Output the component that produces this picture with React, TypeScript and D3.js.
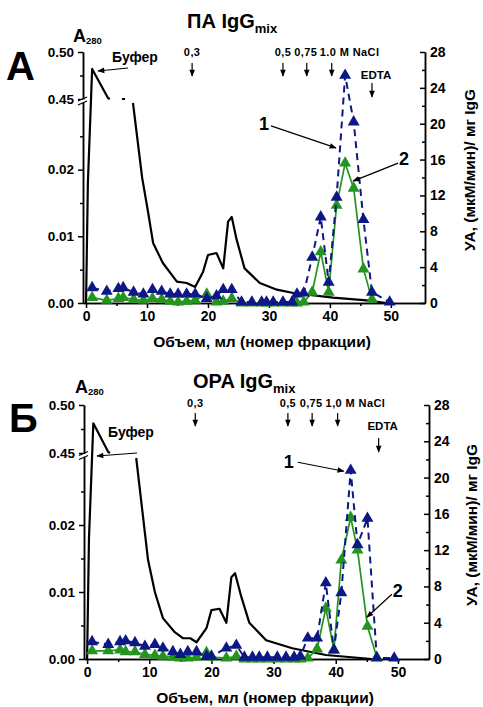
import React, { useEffect, useRef } from "react";
import * as d3 from "d3";

const W = 483;
const H = 707;
const FONT = "'Liberation Sans', Arial, sans-serif";
const BLUE = "#0d1786";
const GREEN = "#23951f";

// панель А: ПА IgGmix (объем фракции, мл)
const fracA = [1.0, 3.4, 5.3, 6.1, 7.8, 9.4, 10.9, 12.4, 13.8, 15.1, 16.5, 17.9, 19.8, 21.4, 22.5, 23.9, 25.5, 27.2, 28.8, 29.6, 30.7, 32.3, 33.8, 34.6, 35.7, 37.1, 38.5, 39.8, 41.1, 42.5, 43.9, 45.5, 46.9, 49.8];
const ua1A = [1.7, 1.3, 1.6, 1.7, 1.2, 1.0, 1.5, 1.3, 1.0, 1.0, 1.0, 1.0, 0.5, 0.8, 1.5, 1.5, 0.1, 0.1, 0.1, 0.1, 0.1, 0.1, 0.1, 1.0, 1.1, 5.1, 9.6, 2.3, 11.8, 25.4, 20.2, 9.3, 1.2, 0.1];
const ua2A = [0.6, 0.3, 0.5, 0.6, 0.4, 0.3, 0.5, 0.4, 0.2, 0.1, 0.2, 0.3, 1.0, 0.1, 0.2, 0.5, 0, 0, 0, 0, 0, 0, 0, 0, 0.1, 1.2, 5.7, 1.2, 10.9, 15.6, 12.8, 3.8, 0.4, null];
const a280VolA = [0.0, 0.3, 1.0, 3.6, 3.9, 4.5, 5.9, 6.4, 7.0, 7.7, 9.2, 10.2, 11.0, 12.6, 14.9, 16.5, 17.9, 19.2, 20.0, 21.4, 22.5, 23.3, 23.9, 24.7, 26.0, 28.5, 31.3, 34.0, 40.5, 46.0, 49.3];
const a280A = [0, 0.018, 0.482, 0.451, 0.45, null, 0.449, 0.449, null, 0.03, 0.0188, 0.0135, 0.009, 0.006, 0.0032, 0.003, 0.0024, 0.0047, 0.0072, 0.0075, 0.0052, 0.0122, 0.0129, 0.0095, 0.0052, 0.003, 0.002, 0.0015, 0.0008, 0.0004, 0];

// панель Б: OPA IgGmix
const fracB = [0.8, 3.4, 5.3, 6.2, 7.7, 9.3, 10.9, 12.2, 13.8, 15.0, 16.2, 17.6, 19.2, 20.0, 22.4, 24.0, 25.3, 26.6, 27.7, 29.0, 30.6, 32.0, 33.3, 34.3, 35.5, 37.0, 38.4, 39.7, 40.9, 42.4, 43.5, 45.1, 46.6, 49.4];
const ua1B = [1.9, 1.6, 1.9, 2.0, 1.8, 1.4, 1.6, 1.2, 0.8, 0.5, 0.8, 0.8, 0.3, 0.3, 1.2, 1.5, 0.2, 0.2, 0.2, 0.2, 0.2, 0.2, 0.2, 0.3, 2.3, 2.3, 8.4, 1.0, 7.3, 20.8, 12.6, 15.5, 0.1, 0.1];
const ua2B = [0.9, 0.9, 1.0, 0.8, 0.8, 0.5, 0.4, 0.3, 0.2, 0.1, 0.1, 0.2, 0.7, 0.2, 0.1, 0.3, 0, 0, 0, 0, 0, 0, 0, 0, 0.1, 1.1, 5.6, 1.0, 10.9, 15.6, 12.0, 3.6, 0.2, null];
const a280VolB = [0.0, 0.3, 1.0, 3.4, 3.7, 5.0, 7.9, 9.8, 10.9, 12.2, 14.1, 15.4, 16.6, 17.6, 19.2, 20.0, 21.3, 22.4, 23.2, 23.8, 24.8, 26.1, 28.8, 33.0, 38.4, 45.8];
const a280B = [0, 0.018, 0.481, 0.451, 0.45, null, 0.03, 0.0148, 0.01, 0.0061, 0.004, 0.0031, 0.0031, 0.0025, 0.0046, 0.0073, 0.0075, 0.0054, 0.0122, 0.0128, 0.0093, 0.0054, 0.0028, 0.0016, 0.0006, 0];

const xTicks = [0, 10, 20, 30, 40, 50];
const xMinor = [5, 15, 25, 35, 45];
const leftTicks = [0, 0.01, 0.02, 0.45, 0.5];
const leftMinor = [0.005, 0.015, 0.025, 0.475];
const rightTicks = [0, 4, 8, 12, 16, 20, 24, 28];
const rightMinor = [2, 6, 10, 14, 18, 22, 26];
const saltVol = [17.4, 32.3, 36.2, 40.3];
const edtaVol = 46.9;
const saltLabelsA = ["0,3", "0,5", "0,75", "1.0 M NaCl"];
const saltLabelsB = ["0,3", "0,5", "0,75", "1,0 M NaCl"];

const panels = [
  {
    letter: "А", title: "ПА IgG", frac: fracA, ua1: ua1A, ua2: ua2A, aVol: a280VolA, a280: a280A, salt: saltLabelsA,
    xDomain: [-0.5, 55.6], xRange: [83, 425], yL: [303, 103, 99, 52],
    letterPos: [6, 80], titlePos: [187, 28], a280Pos: [73, 42],
    saltY: 63, saltLabelY: 56, edtaY: 83, edtaLabelY: 79,
    bufText: [112, 62], bufArrow: [128, 68, 98, 71],
    xLabel: [262, 347], yLabel: [475, 170],
    notes: [
      { t: "1", v: 41.0, u: 17.3, sx: -65, sy: -22, lx: -72, ly: -24 },
      { t: "2", v: 43.8, u: 13.6, sx: 45, sy: -18, lx: 51, ly: -23 },
    ],
  },
  {
    letter: "Б", title: "OPA IgG", frac: fracB, ua1: ua1B, ua2: ua2B, aVol: a280VolB, a280: a280B, salt: saltLabelsB,
    xDomain: [-0.5, 55.0], xRange: [84, 429], yL: [659, 458, 453, 405],
    letterPos: [9, 432], titlePos: [193, 388], a280Pos: [75, 393],
    saltY: 413, saltLabelY: 407, edtaY: 438, edtaLabelY: 430,
    bufText: [108, 437], bufArrow: [137, 453, 97, 456],
    xLabel: [265, 703], yLabel: [477, 525],
    notes: [
      { t: "1", v: 41.3, u: 20.7, sx: -46, sy: -9, lx: -55, ly: -10 },
      { t: "2", v: 45.0, u: 4.6, sx: 25, sy: -23, lx: 31, ly: -27 },
    ],
  },
];

function styleAxis(sel: any, size: number) {
  sel.attr("font-family", FONT).attr("font-size", size).attr("font-weight", "bold");
  sel.selectAll("path, line").attr("stroke", "#000").attr("stroke-width", 1.5);
  sel.selectAll("text").attr("fill", "#000");
}

function drawPanel(svg: any, p: any) {
  const g = svg.append("g").attr("font-family", FONT).attr("font-weight", "bold");
  const x = d3.scaleLinear().domain(p.xDomain).range(p.xRange);
  const yL = d3.scaleLinear().domain([0, 0.03, 0.45, 0.5]).range(p.yL);
  const yR = d3.scaleLinear().domain([0, 28]).range([p.yL[0], p.yL[3]]);
  const [xl, xr] = p.xRange;
  const y0 = p.yL[0];

  // axes
  g.append("g").attr("transform", `translate(0,${y0})`)
    .call(d3.axisBottom(x).tickValues(xMinor).tickSize(3).tickFormat(() => "").tickSizeOuter(0))
    .call((s: any) => styleAxis(s, 14));
  g.append("g").attr("transform", `translate(0,${y0})`)
    .call(d3.axisBottom(x).tickValues(xTicks).tickSize(5).tickPadding(3).tickSizeOuter(0))
    .call((s: any) => styleAxis(s, 14));

  g.append("g").attr("transform", `translate(${xl},0)`)
    .call(d3.axisLeft(yL).tickValues(leftMinor).tickSize(3).tickFormat(() => "").tickSizeOuter(0))
    .call((s: any) => styleAxis(s, 13.5));
  g.append("g").attr("transform", `translate(${xl},0)`)
    .call(d3.axisLeft(yL).tickValues(leftTicks).tickFormat(d3.format(".2f")).tickSize(5).tickPadding(4).tickSizeOuter(0))
    .call((s: any) => styleAxis(s, 13.5));

  g.append("g").attr("transform", `translate(${xr},0)`)
    .call(d3.axisRight(yR).tickValues(rightMinor).tickSize(-3).tickFormat(() => "").tickSizeOuter(0))
    .call((s: any) => styleAxis(s, 14));
  g.append("g").attr("transform", `translate(${xr},0)`)
    .call(d3.axisRight(yR).tickValues(rightTicks).tickSize(-5).tickPadding(5).tickSizeOuter(0))
    .call((s: any) => styleAxis(s, 14));

  // axis break
  const yb = (yL(0.45) + yL(0.03)) / 2;
  g.append("rect").attr("x", xl - 3).attr("y", yb - 1.5).attr("width", 6).attr("height", 3).attr("fill", "#fff");
  [-2, 2].forEach((o) => {
    g.append("line").attr("x1", xl - 5).attr("y1", yb + o + 2).attr("x2", xl + 4).attr("y2", yb + o - 2)
      .attr("stroke", "#000").attr("stroke-width", 1.3);
  });

  // A280
  const lineA = d3.line<number>()
    .defined((_, i) => p.a280[i] != null)
    .x((d) => x(d))
    .y((_, i) => yL(p.a280[i]));
  g.append("path").datum(p.aVol).attr("d", lineA).attr("fill", "none")
    .attr("stroke", "#000").attr("stroke-width", 2.2).attr("stroke-linejoin", "round");

  const tri = d3.symbol(d3.symbolTriangle, 62);
  const lineU = (vals: (number | null)[]) => d3.line<number>()
    .defined((_, i) => vals[i] != null)
    .x((d) => x(d))
    .y((_, i) => yR(vals[i] as number));

  // 2 — green
  g.append("path").datum(p.frac).attr("d", lineU(p.ua2)).attr("fill", "none")
    .attr("stroke", GREEN).attr("stroke-width", 1.7);
  g.append("g").selectAll("path").data(p.frac.filter((_: number, i: number) => p.ua2[i] != null))
    .join("path")
    .attr("d", tri)
    .attr("fill", GREEN)
    .attr("transform", (d: number) => `translate(${x(d)},${yR(p.ua2[p.frac.indexOf(d)])})`);

  // 1 — blue dashed
  g.append("path").datum(p.frac).attr("d", lineU(p.ua1)).attr("fill", "none")
    .attr("stroke", BLUE).attr("stroke-width", 2).attr("stroke-dasharray", "7,5");
  g.append("g").selectAll("path").data(p.frac)
    .join("path")
    .attr("d", tri)
    .attr("fill", BLUE)
    .attr("transform", (d: number, i: number) => `translate(${x(d)},${yR(p.ua1[i])})`);

  // salt step arrows
  saltVol.forEach((v, i) => {
    const px = x(v);
    g.append("line").attr("x1", px).attr("x2", px).attr("y1", p.saltY).attr("y2", p.saltY + 13)
      .attr("stroke", "#000").attr("stroke-width", 1.2).attr("marker-end", "url(#ah)");
    g.append("text")
      .attr("x", i === 3 ? px - 12 : i === 2 ? px - 1 : px)
      .attr("y", p.saltLabelY)
      .attr("text-anchor", i === 3 ? "start" : "middle")
      .attr("font-size", 11)
      .attr("letter-spacing", 0.4)
      .text(p.salt[i]);
  });
  const ex = x(edtaVol);
  g.append("line").attr("x1", ex).attr("x2", ex).attr("y1", p.edtaY).attr("y2", p.edtaY + 14)
    .attr("stroke", "#000").attr("stroke-width", 1.2).attr("marker-end", "url(#ah)");
  g.append("text").attr("x", ex + 4).attr("y", p.edtaLabelY).attr("text-anchor", "middle")
    .attr("font-size", 11.5).text("EDTA");

  // Буфер
  g.append("text").attr("x", p.bufText[0]).attr("y", p.bufText[1]).attr("font-size", 14).text("Буфер");
  g.append("line").attr("x1", p.bufArrow[0]).attr("y1", p.bufArrow[1]).attr("x2", p.bufArrow[2]).attr("y2", p.bufArrow[3])
    .attr("stroke", "#000").attr("stroke-width", 1.2).attr("marker-end", "url(#ah)");

  // curve labels 1, 2
  p.notes.forEach((n: any) => {
    const tx = x(n.v);
    const ty = yR(n.u);
    g.append("line").attr("x1", tx + n.sx).attr("y1", ty + n.sy).attr("x2", tx).attr("y2", ty)
      .attr("stroke", "#000").attr("stroke-width", 1.2).attr("marker-end", "url(#ah)");
    g.append("text").attr("x", tx + n.lx).attr("y", ty + n.ly + 6.5).attr("text-anchor", "middle")
      .attr("font-size", 18).text(n.t);
  });

  // titles and axis labels
  g.append("text").attr("x", p.letterPos[0]).attr("y", p.letterPos[1]).attr("font-size", 40).text(p.letter);
  const t = g.append("text").attr("x", p.titlePos[0]).attr("y", p.titlePos[1]).attr("font-size", 20).text(p.title);
  t.append("tspan").attr("font-size", 13).attr("dy", 5).text("mix");
  const a = g.append("text").attr("x", p.a280Pos[0]).attr("y", p.a280Pos[1]).attr("font-size", 18).text("A");
  a.append("tspan").attr("font-size", 9.5).attr("dy", 2).text("280");
  g.append("text").attr("x", p.xLabel[0]).attr("y", p.xLabel[1]).attr("text-anchor", "middle")
    .attr("font-size", 15.5).text("Объем, мл (номер фракции)");
  g.append("text").attr("transform", `translate(${p.yLabel[0]},${p.yLabel[1]}) rotate(-90)`)
    .attr("text-anchor", "middle").attr("font-size", 15.5).text("УА, (мкМ/мин)/ мг IgG");
}

export default function App() {
  const ref = useRef<SVGSVGElement>(null);

  useEffect(() => {
    const svg = d3.select(ref.current);
    svg.selectAll("*").remove();
    svg.append("defs").append("marker")
      .attr("id", "ah")
      .attr("viewBox", "0 0 10 10")
      .attr("refX", 9).attr("refY", 5)
      .attr("markerWidth", 8).attr("markerHeight", 7)
      .attr("markerUnits", "userSpaceOnUse")
      .attr("orient", "auto")
      .append("path").attr("d", "M0,1 L10,5 L0,9 Z").attr("fill", "#000");
    panels.forEach((p) => drawPanel(svg, p));
  }, []);

  return (
    <svg ref={ref} width={W} height={H}
      style={{ position: "absolute", left: 0, top: 0, background: "#fff" }} />
  );
}
